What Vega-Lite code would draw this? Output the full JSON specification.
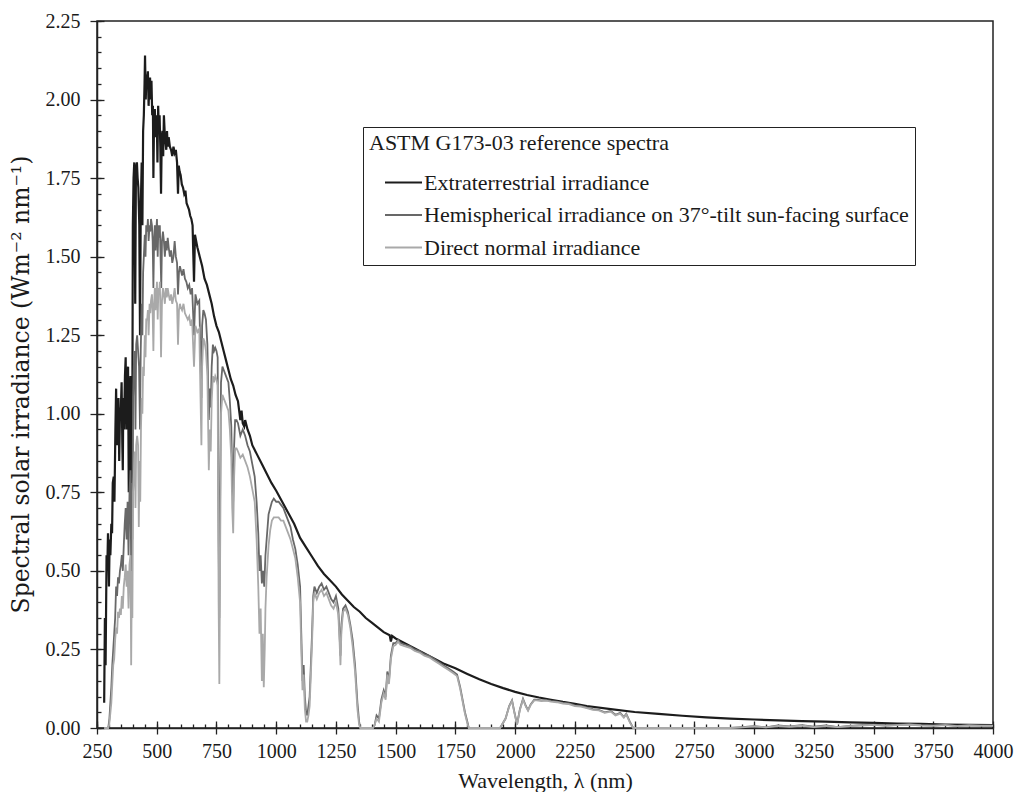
{
  "$schema": "https://vega.github.io/schema/vega-lite/v6.json",
  "width": 896,
  "height": 707,
  "autosize": {"type": "none"},
  "padding": {"left": 97, "top": 21, "right": 22, "bottom": 64},
  "background": "white",
  "config": {
    "view": {"stroke": "#222", "strokeWidth": 1.5},
    "axis": {
      "grid": false,
      "labelFont": "Liberation Serif",
      "labelFontSize": 20,
      "labelColor": "#1a1a1a",
      "titleFont": "Liberation Serif",
      "titleFontSize": 22,
      "titleFontWeight": "normal",
      "titleColor": "#1a1a1a",
      "tickColor": "#222",
      "tickWidth": 1.3,
      "domainColor": "#222",
      "domainWidth": 1.5
    },
    "legend": {
      "orient": "none",
      "legendX": 266,
      "legendY": 106,
      "titleFont": "Liberation Serif",
      "titleFontSize": 22,
      "titleFontWeight": "normal",
      "titleColor": "#1a1a1a",
      "titleLimit": 800,
      "labelFont": "Liberation Serif",
      "labelFontSize": 22,
      "labelColor": "#1a1a1a",
      "labelLimit": 800,
      "symbolType": "stroke",
      "symbolStrokeWidth": 2,
      "symbolSize": 1369,
      "strokeColor": "#222",
      "padding": 6,
      "rowPadding": 1.5,
      "symbolOffset": 15,
      "labelOffset": 1,
      "titlePadding": 8
    }
  },
  "datasets": {
    "etr": [
      {"w":280,"v":0.08},{"w":283,"v":0.35},{"w":286,"v":0.2},{"w":290,"v":0.55},{"w":293,"v":0.5},{"w":296,"v":0.62},{"w":300,"v":0.45},{"w":303,"v":0.6},{"w":306,"v":0.55},{"w":310,"v":0.65},{"w":313,"v":0.62},{"w":316,"v":0.78},{"w":320,"v":0.8},{"w":323,"v":0.72},{"w":327,"v":0.95},{"w":330,"v":1.08},{"w":333,"v":0.9},{"w":336,"v":0.98},{"w":340,"v":1.05},{"w":343,"v":0.85},{"w":346,"v":1.0},{"w":350,"v":1.02},{"w":353,"v":1.1},{"w":356,"v":0.9},{"w":358,"v":0.82},{"w":360,"v":1.05},{"w":363,"v":0.95},{"w":367,"v":1.12},{"w":370,"v":1.18},{"w":373,"v":0.95},{"w":376,"v":1.1},{"w":380,"v":1.15},{"w":383,"v":0.75},{"w":386,"v":1.05},{"w":390,"v":1.12},{"w":393,"v":0.6},{"w":395,"v":1.0},{"w":397,"v":0.7},{"w":400,"v":1.6},{"w":403,"v":1.75},{"w":406,"v":1.8},{"w":410,"v":1.35},{"w":413,"v":1.78},{"w":417,"v":1.8},{"w":420,"v":1.75},{"w":423,"v":1.72},{"w":427,"v":1.6},{"w":430,"v":1.25},{"w":433,"v":1.65},{"w":437,"v":1.8},{"w":440,"v":1.6},{"w":443,"v":1.9},{"w":446,"v":1.95},{"w":449,"v":2.05},{"w":451,"v":2.14},{"w":454,"v":2.0},{"w":457,"v":2.08},{"w":460,"v":2.05},{"w":463,"v":2.09},{"w":466,"v":1.98},{"w":469,"v":2.05},{"w":472,"v":2.07},{"w":475,"v":2.0},{"w":478,"v":2.06},{"w":481,"v":1.95},{"w":484,"v":1.98},{"w":486,"v":1.75},{"w":489,"v":1.95},{"w":492,"v":1.97},{"w":495,"v":1.88},{"w":498,"v":1.92},{"w":500,"v":1.95},{"w":503,"v":1.8},{"w":506,"v":1.98},{"w":509,"v":1.9},{"w":512,"v":1.95},{"w":515,"v":1.85},{"w":518,"v":1.7},{"w":521,"v":1.88},{"w":524,"v":1.9},{"w":527,"v":1.82},{"w":530,"v":1.95},{"w":533,"v":1.9},{"w":536,"v":1.87},{"w":540,"v":1.84},{"w":543,"v":1.9},{"w":546,"v":1.85},{"w":550,"v":1.88},{"w":555,"v":1.85},{"w":560,"v":1.84},{"w":565,"v":1.82},{"w":570,"v":1.85},{"w":575,"v":1.83},{"w":580,"v":1.84},{"w":585,"v":1.8},{"w":589,"v":1.7},{"w":592,"v":1.79},{"w":596,"v":1.77},{"w":600,"v":1.76},{"w":605,"v":1.73},{"w":610,"v":1.72},{"w":615,"v":1.7},{"w":620,"v":1.71},{"w":625,"v":1.67},{"w":630,"v":1.66},{"w":635,"v":1.65},{"w":640,"v":1.63},{"w":645,"v":1.62},{"w":650,"v":1.6},{"w":656,"v":1.42},{"w":660,"v":1.57},{"w":670,"v":1.53},{"w":680,"v":1.5},{"w":690,"v":1.47},{"w":700,"v":1.43},{"w":710,"v":1.41},{"w":720,"v":1.38},{"w":730,"v":1.35},{"w":740,"v":1.31},{"w":750,"v":1.28},{"w":760,"v":1.26},{"w":770,"v":1.23},{"w":780,"v":1.2},{"w":790,"v":1.17},{"w":800,"v":1.14},{"w":810,"v":1.11},{"w":820,"v":1.09},{"w":830,"v":1.06},{"w":840,"v":1.04},{"w":850,"v":0.98},{"w":855,"v":1.01},{"w":860,"v":0.97},{"w":866,"v":0.96},{"w":870,"v":0.98},{"w":880,"v":0.95},{"w":890,"v":0.93},{"w":900,"v":0.9},{"w":920,"v":0.87},{"w":940,"v":0.84},{"w":960,"v":0.81},{"w":980,"v":0.78},{"w":1000,"v":0.755},{"w":1025,"v":0.72},{"w":1050,"v":0.685},{"w":1075,"v":0.65},{"w":1100,"v":0.605},{"w":1125,"v":0.575},{"w":1150,"v":0.545},{"w":1175,"v":0.515},{"w":1200,"v":0.49},{"w":1225,"v":0.47},{"w":1250,"v":0.45},{"w":1275,"v":0.425},{"w":1300,"v":0.405},{"w":1325,"v":0.385},{"w":1350,"v":0.37},{"w":1375,"v":0.35},{"w":1400,"v":0.335},{"w":1425,"v":0.32},{"w":1450,"v":0.305},{"w":1475,"v":0.295},{"w":1480,"v":0.275},{"w":1485,"v":0.293},{"w":1500,"v":0.285},{"w":1550,"v":0.265},{"w":1600,"v":0.245},{"w":1650,"v":0.225},{"w":1700,"v":0.205},{"w":1750,"v":0.19},{"w":1800,"v":0.172},{"w":1850,"v":0.155},{"w":1900,"v":0.14},{"w":1950,"v":0.127},{"w":2000,"v":0.115},{"w":2050,"v":0.105},{"w":2100,"v":0.097},{"w":2150,"v":0.09},{"w":2200,"v":0.083},{"w":2250,"v":0.077},{"w":2300,"v":0.07},{"w":2400,"v":0.06},{"w":2500,"v":0.051},{"w":2600,"v":0.045},{"w":2700,"v":0.039},{"w":2800,"v":0.034},{"w":2900,"v":0.03},{"w":3000,"v":0.027},{"w":3100,"v":0.024},{"w":3200,"v":0.022},{"w":3300,"v":0.02},{"w":3400,"v":0.018},{"w":3500,"v":0.016},{"w":3600,"v":0.014},{"w":3700,"v":0.013},{"w":3800,"v":0.011},{"w":3900,"v":0.01},{"w":4000,"v":0.009}
    ],
    "glob": [
      {"w":280,"v":0},{"w":295,"v":0},{"w":298,"v":0.005},{"w":302,"v":0.03},{"w":306,"v":0.08},{"w":310,"v":0.13},{"w":314,"v":0.2},{"w":318,"v":0.25},{"w":322,"v":0.3},{"w":326,"v":0.35},{"w":330,"v":0.45},{"w":334,"v":0.42},{"w":338,"v":0.48},{"w":342,"v":0.46},{"w":346,"v":0.5},{"w":350,"v":0.52},{"w":354,"v":0.55},{"w":358,"v":0.5},{"w":362,"v":0.58},{"w":366,"v":0.65},{"w":370,"v":0.7},{"w":374,"v":0.6},{"w":378,"v":0.72},{"w":382,"v":0.55},{"w":386,"v":0.75},{"w":390,"v":0.82},{"w":393,"v":0.5},{"w":396,"v":0.78},{"w":398,"v":0.6},{"w":401,"v":1.05},{"w":404,"v":1.15},{"w":408,"v":1.2},{"w":411,"v":0.95},{"w":414,"v":1.22},{"w":418,"v":1.25},{"w":422,"v":1.2},{"w":426,"v":1.15},{"w":430,"v":0.95},{"w":433,"v":1.2},{"w":437,"v":1.35},{"w":440,"v":1.25},{"w":443,"v":1.45},{"w":446,"v":1.5},{"w":450,"v":1.57},{"w":453,"v":1.5},{"w":456,"v":1.6},{"w":460,"v":1.58},{"w":463,"v":1.62},{"w":466,"v":1.55},{"w":470,"v":1.6},{"w":473,"v":1.58},{"w":476,"v":1.62},{"w":480,"v":1.6},{"w":483,"v":1.55},{"w":486,"v":1.4},{"w":489,"v":1.55},{"w":492,"v":1.6},{"w":495,"v":1.52},{"w":498,"v":1.58},{"w":501,"v":1.62},{"w":504,"v":1.5},{"w":507,"v":1.6},{"w":510,"v":1.56},{"w":513,"v":1.6},{"w":516,"v":1.5},{"w":519,"v":1.4},{"w":522,"v":1.55},{"w":526,"v":1.58},{"w":530,"v":1.55},{"w":534,"v":1.5},{"w":538,"v":1.55},{"w":542,"v":1.52},{"w":546,"v":1.56},{"w":550,"v":1.53},{"w":555,"v":1.5},{"w":560,"v":1.52},{"w":565,"v":1.48},{"w":570,"v":1.5},{"w":575,"v":1.55},{"w":580,"v":1.5},{"w":585,"v":1.48},{"w":589,"v":1.38},{"w":593,"v":1.45},{"w":597,"v":1.47},{"w":600,"v":1.46},{"w":606,"v":1.44},{"w":612,"v":1.46},{"w":618,"v":1.43},{"w":624,"v":1.42},{"w":630,"v":1.4},{"w":636,"v":1.41},{"w":642,"v":1.38},{"w":648,"v":1.4},{"w":656,"v":1.25},{"w":662,"v":1.38},{"w":670,"v":1.35},{"w":678,"v":1.36},{"w":687,"v":1.05},{"w":690,"v":1.28},{"w":695,"v":1.33},{"w":700,"v":1.32},{"w":706,"v":1.3},{"w":712,"v":1.22},{"w":718,"v":0.98},{"w":722,"v":1.08},{"w":726,"v":1.02},{"w":730,"v":1.15},{"w":735,"v":1.22},{"w":740,"v":1.2},{"w":745,"v":1.21},{"w":750,"v":1.2},{"w":755,"v":1.18},{"w":759,"v":0.6},{"w":762,"v":0.35},{"w":765,"v":0.7},{"w":769,"v":1.1},{"w":775,"v":1.15},{"w":780,"v":1.14},{"w":790,"v":1.12},{"w":800,"v":1.1},{"w":806,"v":1.04},{"w":812,"v":0.96},{"w":816,"v":0.8},{"w":820,"v":0.72},{"w":824,"v":0.9},{"w":828,"v":0.98},{"w":834,"v":0.98},{"w":840,"v":0.97},{"w":850,"v":0.93},{"w":860,"v":0.95},{"w":870,"v":0.93},{"w":880,"v":0.9},{"w":890,"v":0.88},{"w":900,"v":0.84},{"w":910,"v":0.8},{"w":918,"v":0.72},{"w":925,"v":0.62},{"w":930,"v":0.5},{"w":935,"v":0.55},{"w":940,"v":0.46},{"w":945,"v":0.5},{"w":950,"v":0.45},{"w":955,"v":0.55},{"w":960,"v":0.6},{"w":968,"v":0.68},{"w":975,"v":0.7},{"w":982,"v":0.72},{"w":990,"v":0.73},{"w":1000,"v":0.72},{"w":1010,"v":0.72},{"w":1020,"v":0.71},{"w":1030,"v":0.7},{"w":1040,"v":0.68},{"w":1050,"v":0.66},{"w":1060,"v":0.64},{"w":1070,"v":0.6},{"w":1080,"v":0.57},{"w":1090,"v":0.52},{"w":1100,"v":0.45},{"w":1105,"v":0.3},{"w":1110,"v":0.15},{"w":1115,"v":0.2},{"w":1120,"v":0.1},{"w":1125,"v":0.05},{"w":1130,"v":0.04},{"w":1135,"v":0.07},{"w":1140,"v":0.1},{"w":1145,"v":0.2},{"w":1150,"v":0.3},{"w":1155,"v":0.42},{"w":1160,"v":0.45},{"w":1170,"v":0.43},{"w":1180,"v":0.45},{"w":1190,"v":0.46},{"w":1200,"v":0.44},{"w":1210,"v":0.45},{"w":1220,"v":0.43},{"w":1230,"v":0.41},{"w":1240,"v":0.4},{"w":1250,"v":0.42},{"w":1260,"v":0.38},{"w":1265,"v":0.3},{"w":1269,"v":0.23},{"w":1273,"v":0.33},{"w":1280,"v":0.38},{"w":1290,"v":0.39},{"w":1300,"v":0.37},{"w":1310,"v":0.33},{"w":1320,"v":0.28},{"w":1330,"v":0.2},{"w":1340,"v":0.08},{"w":1347,"v":0.02},{"w":1352,"v":0},{"w":1405,"v":0},{"w":1412,"v":0.01},{"w":1420,"v":0.04},{"w":1430,"v":0.03},{"w":1440,"v":0.09},{"w":1450,"v":0.12},{"w":1458,"v":0.1},{"w":1465,"v":0.18},{"w":1472,"v":0.15},{"w":1480,"v":0.23},{"w":1490,"v":0.27},{"w":1500,"v":0.27},{"w":1510,"v":0.28},{"w":1520,"v":0.27},{"w":1540,"v":0.265},{"w":1560,"v":0.26},{"w":1580,"v":0.25},{"w":1600,"v":0.245},{"w":1620,"v":0.235},{"w":1640,"v":0.23},{"w":1660,"v":0.22},{"w":1680,"v":0.21},{"w":1700,"v":0.2},{"w":1720,"v":0.19},{"w":1740,"v":0.18},{"w":1757,"v":0.17},{"w":1770,"v":0.13},{"w":1780,"v":0.09},{"w":1790,"v":0.05},{"w":1800,"v":0.02},{"w":1806,"v":0},{"w":1937,"v":0},{"w":1960,"v":0.03},{"w":1975,"v":0.07},{"w":1987,"v":0.088},{"w":1997,"v":0.05},{"w":2008,"v":0.012},{"w":2020,"v":0.06},{"w":2033,"v":0.093},{"w":2045,"v":0.07},{"w":2054,"v":0.057},{"w":2065,"v":0.075},{"w":2080,"v":0.09},{"w":2090,"v":0.09},{"w":2110,"v":0.088},{"w":2130,"v":0.089},{"w":2150,"v":0.086},{"w":2175,"v":0.084},{"w":2200,"v":0.08},{"w":2225,"v":0.078},{"w":2250,"v":0.072},{"w":2275,"v":0.07},{"w":2300,"v":0.065},{"w":2325,"v":0.06},{"w":2350,"v":0.058},{"w":2375,"v":0.05},{"w":2400,"v":0.054},{"w":2420,"v":0.042},{"w":2440,"v":0.048},{"w":2455,"v":0.035},{"w":2465,"v":0.045},{"w":2480,"v":0.02},{"w":2494,"v":0},{"w":2900,"v":0},{"w":2950,"v":0.003},{"w":3000,"v":0.006},{"w":3050,"v":0.002},{"w":3100,"v":0.008},{"w":3150,"v":0.005},{"w":3200,"v":0.009},{"w":3250,"v":0.004},{"w":3300,"v":0.008},{"w":3350,"v":0.003},{"w":3400,"v":0.007},{"w":3450,"v":0.009},{"w":3500,"v":0.011},{"w":3550,"v":0.008},{"w":3600,"v":0.01},{"w":3650,"v":0.012},{"w":3700,"v":0.009},{"w":3750,"v":0.008},{"w":3800,"v":0.01},{"w":3850,"v":0.007},{"w":3900,"v":0.009},{"w":3950,"v":0.008},{"w":4000,"v":0.008}
    ],
    "dir": [
      {"w":280,"v":0},{"w":297,"v":0},{"w":301,"v":0.01},{"w":305,"v":0.04},{"w":310,"v":0.08},{"w":314,"v":0.14},{"w":318,"v":0.2},{"w":322,"v":0.22},{"w":326,"v":0.28},{"w":330,"v":0.32},{"w":334,"v":0.3},{"w":338,"v":0.37},{"w":342,"v":0.35},{"w":346,"v":0.38},{"w":350,"v":0.36},{"w":354,"v":0.42},{"w":358,"v":0.38},{"w":362,"v":0.45},{"w":366,"v":0.48},{"w":370,"v":0.52},{"w":374,"v":0.45},{"w":378,"v":0.5},{"w":382,"v":0.38},{"w":386,"v":0.52},{"w":390,"v":0.55},{"w":393,"v":0.2},{"w":396,"v":0.5},{"w":398,"v":0.35},{"w":401,"v":0.75},{"w":404,"v":0.8},{"w":408,"v":0.88},{"w":411,"v":0.7},{"w":414,"v":0.9},{"w":418,"v":0.93},{"w":422,"v":0.9},{"w":425,"v":0.64},{"w":428,"v":0.85},{"w":431,"v":0.72},{"w":434,"v":0.95},{"w":437,"v":1.05},{"w":440,"v":1.0},{"w":443,"v":1.15},{"w":446,"v":1.12},{"w":450,"v":1.25},{"w":453,"v":1.18},{"w":456,"v":1.3},{"w":460,"v":1.3},{"w":463,"v":1.33},{"w":466,"v":1.25},{"w":470,"v":1.35},{"w":473,"v":1.32},{"w":476,"v":1.36},{"w":480,"v":1.38},{"w":483,"v":1.32},{"w":486,"v":1.2},{"w":489,"v":1.35},{"w":492,"v":1.4},{"w":495,"v":1.33},{"w":498,"v":1.38},{"w":501,"v":1.42},{"w":504,"v":1.3},{"w":507,"v":1.4},{"w":510,"v":1.38},{"w":513,"v":1.42},{"w":516,"v":1.3},{"w":518,"v":1.18},{"w":522,"v":1.36},{"w":526,"v":1.4},{"w":530,"v":1.38},{"w":534,"v":1.35},{"w":538,"v":1.4},{"w":542,"v":1.37},{"w":546,"v":1.4},{"w":550,"v":1.38},{"w":555,"v":1.36},{"w":560,"v":1.38},{"w":565,"v":1.35},{"w":570,"v":1.37},{"w":575,"v":1.4},{"w":580,"v":1.36},{"w":585,"v":1.35},{"w":589,"v":1.22},{"w":593,"v":1.33},{"w":597,"v":1.35},{"w":600,"v":1.34},{"w":606,"v":1.33},{"w":612,"v":1.35},{"w":618,"v":1.32},{"w":624,"v":1.31},{"w":630,"v":1.3},{"w":636,"v":1.31},{"w":642,"v":1.28},{"w":648,"v":1.3},{"w":656,"v":1.15},{"w":662,"v":1.28},{"w":670,"v":1.26},{"w":678,"v":1.27},{"w":687,"v":0.9},{"w":690,"v":1.15},{"w":695,"v":1.24},{"w":700,"v":1.23},{"w":706,"v":1.2},{"w":712,"v":1.12},{"w":718,"v":0.82},{"w":722,"v":0.95},{"w":726,"v":0.88},{"w":730,"v":1.04},{"w":735,"v":1.12},{"w":740,"v":1.1},{"w":745,"v":1.12},{"w":750,"v":1.11},{"w":755,"v":1.09},{"w":759,"v":0.4},{"w":762,"v":0.14},{"w":765,"v":0.5},{"w":769,"v":1.0},{"w":775,"v":1.06},{"w":780,"v":1.05},{"w":790,"v":1.03},{"w":800,"v":1.01},{"w":806,"v":0.95},{"w":812,"v":0.86},{"w":816,"v":0.7},{"w":820,"v":0.62},{"w":824,"v":0.8},{"w":828,"v":0.89},{"w":834,"v":0.89},{"w":840,"v":0.88},{"w":850,"v":0.86},{"w":860,"v":0.87},{"w":870,"v":0.85},{"w":880,"v":0.83},{"w":890,"v":0.8},{"w":900,"v":0.76},{"w":910,"v":0.72},{"w":918,"v":0.6},{"w":925,"v":0.45},{"w":930,"v":0.3},{"w":935,"v":0.38},{"w":940,"v":0.15},{"w":944,"v":0.3},{"w":948,"v":0.13},{"w":952,"v":0.25},{"w":955,"v":0.38},{"w":960,"v":0.48},{"w":968,"v":0.58},{"w":975,"v":0.63},{"w":982,"v":0.66},{"w":990,"v":0.67},{"w":1000,"v":0.67},{"w":1010,"v":0.67},{"w":1020,"v":0.66},{"w":1030,"v":0.66},{"w":1040,"v":0.64},{"w":1050,"v":0.62},{"w":1060,"v":0.6},{"w":1070,"v":0.57},{"w":1080,"v":0.54},{"w":1090,"v":0.48},{"w":1100,"v":0.4},{"w":1105,"v":0.25},{"w":1110,"v":0.12},{"w":1115,"v":0.17},{"w":1120,"v":0.06},{"w":1125,"v":0.02},{"w":1130,"v":0.02},{"w":1135,"v":0.04},{"w":1140,"v":0.07},{"w":1145,"v":0.17},{"w":1150,"v":0.27},{"w":1155,"v":0.4},{"w":1160,"v":0.43},{"w":1170,"v":0.41},{"w":1180,"v":0.43},{"w":1190,"v":0.44},{"w":1200,"v":0.42},{"w":1210,"v":0.43},{"w":1220,"v":0.41},{"w":1230,"v":0.39},{"w":1240,"v":0.38},{"w":1250,"v":0.4},{"w":1260,"v":0.36},{"w":1265,"v":0.28},{"w":1269,"v":0.2},{"w":1273,"v":0.31},{"w":1280,"v":0.37},{"w":1290,"v":0.38},{"w":1300,"v":0.36},{"w":1310,"v":0.32},{"w":1320,"v":0.26},{"w":1330,"v":0.18},{"w":1340,"v":0.06},{"w":1347,"v":0.01},{"w":1352,"v":0},{"w":1405,"v":0},{"w":1412,"v":0.01},{"w":1420,"v":0.03},{"w":1430,"v":0.02},{"w":1440,"v":0.08},{"w":1450,"v":0.11},{"w":1458,"v":0.09},{"w":1465,"v":0.17},{"w":1472,"v":0.14},{"w":1480,"v":0.22},{"w":1490,"v":0.26},{"w":1500,"v":0.265},{"w":1510,"v":0.275},{"w":1520,"v":0.265},{"w":1540,"v":0.26},{"w":1560,"v":0.255},{"w":1580,"v":0.245},{"w":1600,"v":0.24},{"w":1620,"v":0.23},{"w":1640,"v":0.225},{"w":1660,"v":0.215},{"w":1680,"v":0.205},{"w":1700,"v":0.195},{"w":1720,"v":0.185},{"w":1740,"v":0.175},{"w":1757,"v":0.165},{"w":1770,"v":0.125},{"w":1780,"v":0.085},{"w":1790,"v":0.045},{"w":1800,"v":0.015},{"w":1806,"v":0},{"w":1937,"v":0},{"w":1960,"v":0.03},{"w":1975,"v":0.068},{"w":1987,"v":0.086},{"w":1997,"v":0.048},{"w":2008,"v":0.01},{"w":2020,"v":0.058},{"w":2033,"v":0.09},{"w":2045,"v":0.068},{"w":2054,"v":0.055},{"w":2065,"v":0.073},{"w":2080,"v":0.088},{"w":2090,"v":0.088},{"w":2110,"v":0.086},{"w":2130,"v":0.087},{"w":2150,"v":0.084},{"w":2175,"v":0.082},{"w":2200,"v":0.078},{"w":2225,"v":0.076},{"w":2250,"v":0.07},{"w":2275,"v":0.068},{"w":2300,"v":0.063},{"w":2325,"v":0.058},{"w":2350,"v":0.056},{"w":2375,"v":0.048},{"w":2400,"v":0.052},{"w":2420,"v":0.04},{"w":2440,"v":0.046},{"w":2455,"v":0.033},{"w":2465,"v":0.043},{"w":2480,"v":0.018},{"w":2494,"v":0},{"w":2900,"v":0},{"w":2950,"v":0.002},{"w":3000,"v":0.005},{"w":3050,"v":0.002},{"w":3100,"v":0.007},{"w":3150,"v":0.004},{"w":3200,"v":0.008},{"w":3250,"v":0.003},{"w":3300,"v":0.007},{"w":3350,"v":0.003},{"w":3400,"v":0.006},{"w":3450,"v":0.008},{"w":3500,"v":0.01},{"w":3550,"v":0.007},{"w":3600,"v":0.009},{"w":3650,"v":0.011},{"w":3700,"v":0.008},{"w":3750,"v":0.007},{"w":3800,"v":0.009},{"w":3850,"v":0.006},{"w":3900,"v":0.008},{"w":3950,"v":0.007},{"w":4000,"v":0.007}
    ]
  },
  "resolve": {"axis": {"x": "independent", "y": "independent"}},
  "layer": [
    {
      "data": {"name": "etr"},
      "mark": {"type": "point", "opacity": 0},
      "encoding": {
        "x": {
          "field": "w", "type": "quantitative",
          "scale": {"domain": [250, 4000], "nice": false, "zero": false},
          "axis": {
            "orient": "bottom",
            "title": null,
            "labels": false,
            "domain": false,
            "offset": -4,
            "values": [250,300,350,400,450,500,550,600,650,700,750,800,850,900,950,1000,1050,1100,1150,1200,1250,1300,1350,1400,1450,1500,1550,1600,1650,1700,1750,1800,1850,1900,1950,2000,2050,2100,2150,2200,2250,2300,2350,2400,2450,2500,2550,2600,2650,2700,2750,2800,2850,2900,2950,3000,3050,3100,3150,3200,3250,3300,3350,3400,3450,3500,3550,3600,3650,3700,3750,3800,3850,3900,3950,4000],
            "tickSize": 4,
            "tickColor": "#222"
          }
        },
        "y": {
          "field": "v", "type": "quantitative",
          "scale": {"domain": [0, 2.25], "nice": false, "zero": true},
          "axis": {
            "orient": "left",
            "title": null,
            "labels": false,
            "domain": false,
            "offset": -4,
            "values": [0,0.05,0.1,0.15,0.2,0.25,0.3,0.35,0.4,0.45,0.5,0.55,0.6,0.65,0.7,0.75,0.8,0.85,0.9,0.95,1,1.05,1.1,1.15,1.2,1.25,1.3,1.35,1.4,1.45,1.5,1.55,1.6,1.65,1.7,1.75,1.8,1.85,1.9,1.95,2,2.05,2.1,2.15,2.2,2.25],
            "tickSize": 4,
            "tickColor": "#222"
          }
        }
      }
    },
    {
      "data": {"name": "etr"},
      "mark": {"type": "line", "strokeWidth": 2.2},
      "encoding": {
        "x": {
          "field": "w", "type": "quantitative",
          "axis": {
            "orient": "bottom",
            "title": "Wavelength, λ (nm)",
            "values": [250,500,750,1000,1250,1500,1750,2000,2250,2500,2750,3000,3250,3500,3750,4000],
            "format": "d",
            "tickSize": 6,
            "labelPadding": 7,
            "titlePadding": 9,
            "labelFlush": false,
            "labelOverlap": false
          }
        },
        "y": {
          "field": "v", "type": "quantitative",
          "axis": {
            "orient": "left",
            "title": "Spectral solar irradiance (Wm⁻² nm⁻¹)",
            "titleFont": "DejaVu Serif",
            "titleFontSize": 23.5,
            "titleX": -64,
            "titleY": 363,
            "titleBaseline": "bottom",
            "titleAngle": 270,
            "values": [0,0.25,0.5,0.75,1,1.25,1.5,1.75,2,2.25],
            "format": ".2f",
            "tickSize": 7,
            "labelPadding": 10,
            "labelFlush": false,
            "labelOverlap": false
          }
        },
        "color": {
          "datum": "Extraterrestrial irradiance",
          "type": "nominal",
          "scale": {
            "domain": ["Extraterrestrial irradiance", "Hemispherical irradiance on 37°-tilt sun-facing surface", "Direct normal irradiance"],
            "range": ["#1c1c1c", "#686868", "#a9a9a9"]
          },
          "legend": {"title": "ASTM G173-03 reference spectra"}
        }
      }
    },
    {
      "data": {"name": "glob"},
      "mark": {"type": "line", "strokeWidth": 1.8},
      "encoding": {
        "x": {"field": "w", "type": "quantitative", "axis": null},
        "y": {"field": "v", "type": "quantitative", "axis": null},
        "color": {"datum": "Hemispherical irradiance on 37°-tilt sun-facing surface", "type": "nominal"}
      }
    },
    {
      "data": {"name": "dir"},
      "mark": {"type": "line", "strokeWidth": 1.8},
      "encoding": {
        "x": {"field": "w", "type": "quantitative", "axis": null},
        "y": {"field": "v", "type": "quantitative", "axis": null},
        "color": {"datum": "Direct normal irradiance", "type": "nominal"}
      }
    },
    {
      "data": {"name": "etr"},
      "mark": {"type": "point", "opacity": 0},
      "encoding": {
        "x": {
          "field": "w", "type": "quantitative",
          "axis": {
            "orient": "bottom",
            "title": null,
            "labels": false,
            "domain": false,
            "values": [250,500,750,1000,1250,1500,1750,2000,2250,2500,2750,3000,3250,3500,3750,4000],
            "tickSize": -7,
            "tickColor": "#222"
          }
        },
        "y": {
          "field": "v", "type": "quantitative",
          "axis": {
            "orient": "left",
            "title": null,
            "labels": false,
            "domain": false,
            "values": [0,0.25,0.5,0.75,1,1.25,1.5,1.75,2,2.25],
            "tickSize": -7,
            "tickColor": "#222"
          }
        }
      }
    }
  ]
}
